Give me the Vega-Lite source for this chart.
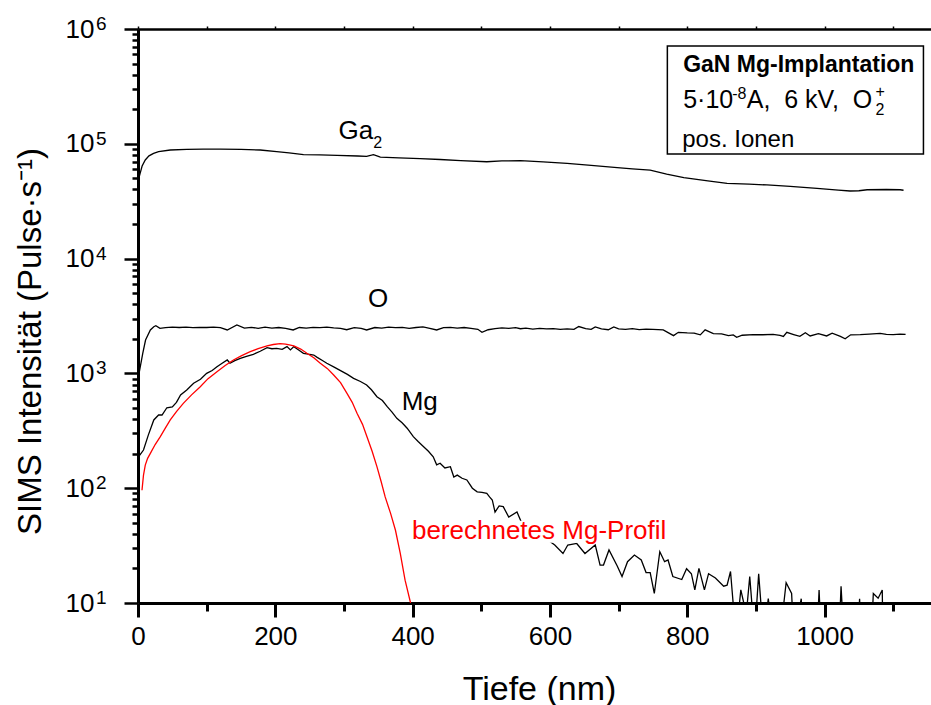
{
  "$schema": "https://vega.github.io/schema/vega-lite/v6.json",
  "width": 793,
  "height": 574,
  "autosize": {"type": "none"},
  "padding": {"left": 138, "top": 29, "right": 0, "bottom": 102},
  "background": "white",
  "config": {
    "view": {"stroke": null},
    "font": "Liberation Sans",
    "axis": {"grid": false, "domainColor": "black", "tickColor": "black", "labelColor": "black", "titleColor": "black", "labelFont": "Liberation Sans", "titleFont": "Liberation Sans", "titleFontWeight": "normal"}
  },
  "datasets": {
    "lines": [
      {"series":"Ga2","d":0,"v":47000},{"series":"Ga2","d":3,"v":55000},{"series":"Ga2","d":6,"v":64000},{"series":"Ga2","d":10.6,"v":72300},{"series":"Ga2","d":16,"v":78500},{"series":"Ga2","d":22.7,"v":82600},{"series":"Ga2","d":30,"v":85500},{"series":"Ga2","d":47,"v":88300},{"series":"Ga2","d":71,"v":89500},{"series":"Ga2","d":95,"v":90000},{"series":"Ga2","d":120,"v":90000},{"series":"Ga2","d":150,"v":89300},{"series":"Ga2","d":178,"v":88300},{"series":"Ga2","d":202,"v":85300},{"series":"Ga2","d":220,"v":83500},{"series":"Ga2","d":241,"v":80400},{"series":"Ga2","d":265,"v":80000},{"series":"Ga2","d":290,"v":79400},{"series":"Ga2","d":320,"v":78300},{"series":"Ga2","d":333,"v":77800},{"series":"Ga2","d":340,"v":79500},{"series":"Ga2","d":343,"v":80400},{"series":"Ga2","d":347,"v":79000},{"series":"Ga2","d":353,"v":76700},{"series":"Ga2","d":380,"v":75500},{"series":"Ga2","d":411,"v":74200},{"series":"Ga2","d":440,"v":73000},{"series":"Ga2","d":470,"v":71500},{"series":"Ga2","d":508,"v":69800},{"series":"Ga2","d":530,"v":71000},{"series":"Ga2","d":557,"v":71300},{"series":"Ga2","d":590,"v":69500},{"series":"Ga2","d":625,"v":67600},{"series":"Ga2","d":660,"v":65000},{"series":"Ga2","d":698,"v":61900},{"series":"Ga2","d":720,"v":60500},{"series":"Ga2","d":746,"v":59100},{"series":"Ga2","d":770,"v":54500},{"series":"Ga2","d":795,"v":50700},{"series":"Ga2","d":830,"v":47500},{"series":"Ga2","d":858,"v":45300},{"series":"Ga2","d":890,"v":44500},{"series":"Ga2","d":916,"v":43800},{"series":"Ga2","d":950,"v":42500},{"series":"Ga2","d":989,"v":40900},{"series":"Ga2","d":1020,"v":39500},{"series":"Ga2","d":1037,"v":38800},{"series":"Ga2","d":1050,"v":39000},{"series":"Ga2","d":1062,"v":39800},{"series":"Ga2","d":1090,"v":40000},{"series":"Ga2","d":1110,"v":39800},{"series":"Ga2","d":1115,"v":39400},
      {"series":"O","d":2,"v":1035},{"series":"O","d":7,"v":1500},{"series":"O","d":11,"v":1954},{"series":"O","d":18,"v":2388},{"series":"O","d":23,"v":2553},{"series":"O","d":26,"v":2606},{"series":"O","d":32,"v":2470},{"series":"O","d":40,"v":2500},{"series":"O","d":50,"v":2525},{"series":"O","d":60,"v":2510},{"series":"O","d":70,"v":2530},{"series":"O","d":80,"v":2500},{"series":"O","d":90,"v":2520},{"series":"O","d":100,"v":2510},{"series":"O","d":110,"v":2530},{"series":"O","d":120,"v":2500},{"series":"O","d":130,"v":2390},{"series":"O","d":144,"v":2640},{"series":"O","d":155,"v":2480},{"series":"O","d":165,"v":2520},{"series":"O","d":175,"v":2470},{"series":"O","d":185,"v":2530},{"series":"O","d":195,"v":2480},{"series":"O","d":205,"v":2510},{"series":"O","d":215,"v":2470},{"series":"O","d":226,"v":2390},{"series":"O","d":235,"v":2510},{"series":"O","d":245,"v":2480},{"series":"O","d":255,"v":2520},{"series":"O","d":265,"v":2500},{"series":"O","d":275,"v":2530},{"series":"O","d":285,"v":2490},{"series":"O","d":295,"v":2470},{"series":"O","d":304,"v":2400},{"series":"O","d":315,"v":2500},{"series":"O","d":325,"v":2470},{"series":"O","d":333,"v":2390},{"series":"O","d":345,"v":2510},{"series":"O","d":355,"v":2480},{"series":"O","d":365,"v":2530},{"series":"O","d":375,"v":2500},{"series":"O","d":385,"v":2520},{"series":"O","d":395,"v":2470},{"series":"O","d":405,"v":2510},{"series":"O","d":415,"v":2540},{"series":"O","d":425,"v":2470},{"series":"O","d":435,"v":2390},{"series":"O","d":445,"v":2500},{"series":"O","d":455,"v":2520},{"series":"O","d":465,"v":2480},{"series":"O","d":475,"v":2510},{"series":"O","d":485,"v":2470},{"series":"O","d":495,"v":2420},{"series":"O","d":501,"v":2280},{"series":"O","d":510,"v":2400},{"series":"O","d":520,"v":2460},{"series":"O","d":530,"v":2490},{"series":"O","d":540,"v":2470},{"series":"O","d":550,"v":2500},{"series":"O","d":557,"v":2450},{"series":"O","d":565,"v":2480},{"series":"O","d":575,"v":2430},{"series":"O","d":585,"v":2470},{"series":"O","d":595,"v":2440},{"series":"O","d":605,"v":2450},{"series":"O","d":615,"v":2420},{"series":"O","d":625,"v":2440},{"series":"O","d":635,"v":2420},{"series":"O","d":642,"v":2560},{"series":"O","d":652,"v":2450},{"series":"O","d":660,"v":2420},{"series":"O","d":666,"v":2540},{"series":"O","d":675,"v":2440},{"series":"O","d":685,"v":2400},{"series":"O","d":693,"v":2540},{"series":"O","d":700,"v":2440},{"series":"O","d":710,"v":2420},{"series":"O","d":720,"v":2450},{"series":"O","d":730,"v":2410},{"series":"O","d":740,"v":2430},{"series":"O","d":750,"v":2420},{"series":"O","d":765,"v":2390},{"series":"O","d":780,"v":2132},{"series":"O","d":787,"v":2280},{"series":"O","d":800,"v":2250},{"series":"O","d":810,"v":2240},{"series":"O","d":819,"v":2166},{"series":"O","d":826,"v":2393},{"series":"O","d":838,"v":2218},{"series":"O","d":850,"v":2210},{"series":"O","d":860,"v":2130},{"series":"O","d":867,"v":2166},{"series":"O","d":872,"v":2062},{"series":"O","d":880,"v":2150},{"series":"O","d":896,"v":2180},{"series":"O","d":910,"v":2170},{"series":"O","d":925,"v":2190},{"series":"O","d":935,"v":2140},{"series":"O","d":940,"v":2100},{"series":"O","d":945,"v":2280},{"series":"O","d":955,"v":2180},{"series":"O","d":964,"v":2100},{"series":"O","d":972,"v":2260},{"series":"O","d":979,"v":2120},{"series":"O","d":991,"v":2220},{"series":"O","d":1003,"v":2120},{"series":"O","d":1011,"v":2240},{"series":"O","d":1023,"v":2100},{"series":"O","d":1030,"v":2005},{"series":"O","d":1038,"v":2170},{"series":"O","d":1052,"v":2180},{"series":"O","d":1065,"v":2200},{"series":"O","d":1081,"v":2230},{"series":"O","d":1090,"v":2190},{"series":"O","d":1100,"v":2180},{"series":"O","d":1110,"v":2200},{"series":"O","d":1118,"v":2190},
      {"series":"Mg","d":1,"v":188},{"series":"Mg","d":8,"v":215},{"series":"Mg","d":15,"v":290},{"series":"Mg","d":23,"v":393},{"series":"Mg","d":30,"v":434},{"series":"Mg","d":35,"v":434},{"series":"Mg","d":42,"v":502},{"series":"Mg","d":50,"v":510},{"series":"Mg","d":56,"v":560},{"series":"Mg","d":62,"v":648},{"series":"Mg","d":71,"v":716},{"series":"Mg","d":81,"v":820},{"series":"Mg","d":91,"v":888},{"series":"Mg","d":100,"v":1000},{"series":"Mg","d":108,"v":1060},{"series":"Mg","d":115,"v":1143},{"series":"Mg","d":122,"v":1220},{"series":"Mg","d":130,"v":1309},{"series":"Mg","d":134,"v":1225},{"series":"Mg","d":141,"v":1290},{"series":"Mg","d":149,"v":1352},{"series":"Mg","d":158,"v":1410},{"series":"Mg","d":168,"v":1466},{"series":"Mg","d":178,"v":1560},{"series":"Mg","d":188,"v":1675},{"series":"Mg","d":195,"v":1640},{"series":"Mg","d":202,"v":1650},{"series":"Mg","d":210,"v":1620},{"series":"Mg","d":217,"v":1710},{"series":"Mg","d":222,"v":1600},{"series":"Mg","d":227,"v":1710},{"series":"Mg","d":234,"v":1600},{"series":"Mg","d":241,"v":1496},{"series":"Mg","d":248,"v":1470},{"series":"Mg","d":256,"v":1445},{"series":"Mg","d":261,"v":1380},{"series":"Mg","d":268,"v":1300},{"series":"Mg","d":275,"v":1225},{"series":"Mg","d":285,"v":1140},{"series":"Mg","d":295,"v":1057},{"series":"Mg","d":305,"v":980},{"series":"Mg","d":314,"v":906},{"series":"Mg","d":324,"v":850},{"series":"Mg","d":333,"v":793},{"series":"Mg","d":340,"v":720},{"series":"Mg","d":348,"v":627},{"series":"Mg","d":356,"v":580},{"series":"Mg","d":363,"v":513},{"series":"Mg","d":370,"v":460},{"series":"Mg","d":377,"v":406},{"series":"Mg","d":385,"v":370},{"series":"Mg","d":392,"v":333},{"series":"Mg","d":401,"v":281},{"series":"Mg","d":408,"v":255},{"series":"Mg","d":416,"v":230},{"series":"Mg","d":423,"v":210},{"series":"Mg","d":430,"v":188},{"series":"Mg","d":435,"v":160},{"series":"Mg","d":440,"v":165},{"series":"Mg","d":447,"v":150},{"series":"Mg","d":455,"v":154},{"series":"Mg","d":460,"v":125},{"series":"Mg","d":465,"v":130},{"series":"Mg","d":472,"v":122},{"series":"Mg","d":479,"v":118},{"series":"Mg","d":487,"v":100},{"series":"Mg","d":494,"v":93},{"series":"Mg","d":501,"v":92},{"series":"Mg","d":508,"v":90},{"series":"Mg","d":512,"v":84},{"series":"Mg","d":516,"v":79},{"series":"Mg","d":520,"v":62},{"series":"Mg","d":526,"v":70},{"series":"Mg","d":532,"v":69},{"series":"Mg","d":540,"v":56},{"series":"Mg","d":552,"v":62},{"series":"Mg","d":562,"v":45},{"series":"Mg","d":575,"v":40},{"series":"Mg","d":590,"v":38},{"series":"Mg","d":607,"v":32},{"series":"Mg","d":619,"v":27},{"series":"Mg","d":626,"v":32},{"series":"Mg","d":639,"v":33},{"series":"Mg","d":651,"v":27},{"series":"Mg","d":666,"v":32},{"series":"Mg","d":673,"v":21.4},{"series":"Mg","d":678,"v":21.4},{"series":"Mg","d":686,"v":29},{"series":"Mg","d":698,"v":21},{"series":"Mg","d":705,"v":17},{"series":"Mg","d":713,"v":22.9},{"series":"Mg","d":723,"v":26.2},{"series":"Mg","d":733,"v":23.7},{"series":"Mg","d":740,"v":18.4},{"series":"Mg","d":746,"v":18.4},{"series":"Mg","d":752,"v":12.1},{"series":"Mg","d":760,"v":28},{"series":"Mg","d":767,"v":22.9},{"series":"Mg","d":772,"v":23.7},{"series":"Mg","d":779,"v":17},{"series":"Mg","d":792,"v":16},{"series":"Mg","d":799,"v":19.9},{"series":"Mg","d":806,"v":18},{"series":"Mg","d":811,"v":13},{"series":"Mg","d":817,"v":20},{"series":"Mg","d":825,"v":13},{"series":"Mg","d":831,"v":18},{"series":"Mg","d":841,"v":16.5},{"series":"Mg","d":853,"v":14},{"series":"Mg","d":858,"v":14.3},{"series":"Mg","d":863,"v":18.8},{"series":"Mg","d":871,"v":5},{"series":"Mg","d":878,"v":13},{"series":"Mg","d":886,"v":8},{"series":"Mg","d":891,"v":17},{"series":"Mg","d":898,"v":5},{"series":"Mg","d":904,"v":18},{"series":"Mg","d":911,"v":5},{"series":"Mg","d":918,"v":10.9},{"series":"Mg","d":925,"v":5},{"series":"Mg","d":935,"v":5},{"series":"Mg","d":944,"v":15},{"series":"Mg","d":952,"v":12.1},{"series":"Mg","d":955,"v":5},{"series":"Mg","d":966,"v":10.9},{"series":"Mg","d":969,"v":5},{"series":"Mg","d":989,"v":5},{"series":"Mg","d":992,"v":13},{"series":"Mg","d":995,"v":5},{"series":"Mg","d":1021,"v":5},{"series":"Mg","d":1024,"v":14},{"series":"Mg","d":1028,"v":5},{"series":"Mg","d":1048,"v":5},{"series":"Mg","d":1051,"v":10.9},{"series":"Mg","d":1053,"v":5},{"series":"Mg","d":1068,"v":5},{"series":"Mg","d":1071,"v":12.1},{"series":"Mg","d":1078,"v":11},{"series":"Mg","d":1084,"v":13},{"series":"Mg","d":1085,"v":5}
    ],
    "calc": [
      {"d":5.8,"v":96},{"d":8,"v":130},{"d":10.6,"v":159},{"d":14,"v":182},{"d":18,"v":201},{"d":25,"v":240},{"d":32.5,"v":281},{"d":40,"v":335},{"d":47,"v":393},{"d":56,"v":465},{"d":66,"v":548},{"d":78,"v":650},{"d":90.7,"v":766},{"d":102,"v":900},{"d":115,"v":1035},{"d":127,"v":1170},{"d":139,"v":1309},{"d":151,"v":1430},{"d":163.5,"v":1545},{"d":175,"v":1640},{"d":188,"v":1734},{"d":197,"v":1785},{"d":207,"v":1815},{"d":215,"v":1800},{"d":222,"v":1760},{"d":227,"v":1734},{"d":237,"v":1630},{"d":246,"v":1496},{"d":256,"v":1370},{"d":265.5,"v":1225},{"d":276,"v":1100},{"d":285,"v":968},{"d":295,"v":830},{"d":304.4,"v":670},{"d":312,"v":560},{"d":319,"v":449},{"d":327,"v":360},{"d":333.5,"v":281},{"d":341,"v":210},{"d":348,"v":154},{"d":354,"v":115},{"d":360,"v":84},{"d":368,"v":60},{"d":375,"v":43},{"d":382,"v":27},{"d":389,"v":15.8},{"d":397,"v":10}
    ],
    "exps": [
      {"e":"1","v":10},{"e":"2","v":100},{"e":"3","v":1000},{"e":"4","v":10000},{"e":"5","v":100000},{"e":"6","v":1000000}
    ]
  },
  "resolve": {"axis": {"x": "independent", "y": "independent"}},
  "layer": [
    {
      "data": {"name": "lines"},
      "mark": {"type": "line", "color": "black", "strokeWidth": 1.3, "clip": true},
      "encoding": {
        "x": {"field": "d", "type": "quantitative", "scale": {"domain": [0, 1155], "nice": false, "zero": false},
          "axis": {"orient": "bottom", "title": "Tiefe (nm)", "values": [0,200,400,600,800,1000], "tickCount": 100, "format": "d",
            "labelFlush": false, "labelOverlap": false,
            "labelFontSize": 26, "labelPadding": 6, "domainWidth": 3, "tickWidth": 3, "tickSize": 14,
            "titleFontSize": 34, "titleX": 401, "titleY": 96, "titleBaseline": "alphabetic", "titleAnchor": "middle", "titleAlign": "center"}},
        "y": {"field": "v", "type": "quantitative", "scale": {"type": "log", "domain": [10, 1000000], "nice": false},
          "axis": {"orient": "left", "title": "SIMS Intensität (Pulse·s⁻¹)", "values": [10,100,1000,10000,100000,1000000], "tickCount": 100,
            "labelExpr": "'10'",
            "labelOverlap": false, "labelBound": false, "labelFontSize": 26, "labelAlign": "left", "labelBaseline": "middle", "labelPadding": 59,
            "domainWidth": 3, "tickWidth": 2.5, "tickSize": 14,
            "titleFontSize": 33, "titleX": -108, "titleY": 312, "titleAngle": -90, "titleAlign": "center", "titleBaseline": "middle", "titleAnchor": "middle"}},
        "detail": {"field": "series"}
      }
    },
    {
      "data": {"name": "calc"},
      "mark": {"type": "line", "color": "#ff0000", "strokeWidth": 1.3, "clip": true},
      "encoding": {
        "x": {"field": "d", "type": "quantitative", "axis": {"orient": "bottom", "title": null, "labels": false, "domain": false, "values": [100,300,500,700,900,1100], "tickCount": 100, "tickSize": 8, "tickWidth": 3}},
        "y": {"field": "v", "type": "quantitative", "axis": {"orient": "left", "title": null, "labels": false, "domain": false, "values": [20,30,40,50,60,70,80,90,200,300,400,500,600,700,800,900,2000,3000,4000,5000,6000,7000,8000,9000,20000,30000,40000,50000,60000,70000,80000,90000,200000,300000,400000,500000,600000,700000,800000,900000], "tickCount": 100, "tickSize": 6, "tickWidth": 2.5}}
      }
    },
    {
      "data": {"values": [{"x1": 771, "x2": 1144, "y1": 711000, "y2": 81500}]},
      "mark": {"type": "rect", "fill": "white", "stroke": "black", "strokeWidth": 1.5},
      "encoding": {
        "x": {"field": "x1", "type": "quantitative", "axis": {"orient": "top", "title": null, "labels": false, "values": [0,100,200,300,400,500,600,700,800,900,1000,1100], "tickCount": 100, "tickSize": 3, "tickWidth": 1.5, "domainWidth": 2.5}},
        "x2": {"field": "x2"},
        "y": {"field": "y1", "type": "quantitative", "axis": null}, "y2": {"field": "y2"}
      }
    },
    {
      "data": {"values": [{"x1": 397, "x2": 799, "y1": 52, "y2": 33.5}]},
      "mark": {"type": "rect", "fill": "white", "stroke": null},
      "encoding": {
        "x": {"field": "x1", "type": "quantitative", "axis": null}, "x2": {"field": "x2"},
        "y": {"field": "y1", "type": "quantitative", "axis": null}, "y2": {"field": "y2"}
      }
    },
    {
      "data": {"values": [{"t": "Ga", "d": 292, "v": 109400}, {"t": "O", "d": 335, "v": 3786}, {"t": "Mg", "d": 384, "v": 482}]},
      "mark": {"type": "text", "align": "left", "baseline": "alphabetic", "fontSize": 26, "color": "black"},
      "encoding": {
        "x": {"field": "d", "type": "quantitative", "axis": null},
        "y": {"field": "v", "type": "quantitative", "axis": null},
        "text": {"field": "t"}
      }
    },
    {
      "data": {"values": [{"t": "berechnetes Mg-Profil", "d": 399, "v": 35.9}]},
      "mark": {"type": "text", "align": "left", "baseline": "alphabetic", "fontSize": 26, "color": "#ff0000"},
      "encoding": {
        "x": {"field": "d", "type": "quantitative", "axis": null},
        "y": {"field": "v", "type": "quantitative", "axis": null},
        "text": {"field": "t"}
      }
    },
    {
      "data": {"values": [{"t": "GaN Mg-Implantation", "d": 794, "v": 424600}]},
      "mark": {"type": "text", "align": "left", "baseline": "alphabetic", "fontSize": 23, "fontWeight": "bold", "color": "black"},
      "encoding": {
        "x": {"field": "d", "type": "quantitative", "axis": null},
        "y": {"field": "v", "type": "quantitative", "axis": null},
        "text": {"field": "t"}
      }
    },
    {
      "data": {"values": [{"t": "5·10", "d": 794.1, "v": 205000}, {"t": "A,\u00a0\u00a06\u00a0kV,\u00a0\u00a0O", "d": 886.6, "v": 205000}]},
      "mark": {"type": "text", "align": "left", "baseline": "alphabetic", "fontSize": 25, "color": "black"},
      "encoding": {
        "x": {"field": "d", "type": "quantitative", "axis": null},
        "y": {"field": "v", "type": "quantitative", "axis": null},
        "text": {"field": "t"}
      }
    },
    {
      "data": {"values": [{"t": "pos. Ionen", "d": 792.6, "v": 94400}]},
      "mark": {"type": "text", "align": "left", "baseline": "alphabetic", "fontSize": 24, "color": "black"},
      "encoding": {
        "x": {"field": "d", "type": "quantitative", "axis": null},
        "y": {"field": "v", "type": "quantitative", "axis": null},
        "text": {"field": "t"}
      }
    },
    {
      "data": {"values": [{"t": "-8", "d": 865.4, "v": 245500}, {"t": "2", "d": 1074, "v": 178200}, {"t": "+", "d": 1074, "v": 255700}, {"t": "2", "d": 342.6, "v": 91900}]},
      "mark": {"type": "text", "align": "left", "baseline": "alphabetic", "fontSize": 16, "color": "black"},
      "encoding": {
        "x": {"field": "d", "type": "quantitative", "axis": null},
        "y": {"field": "v", "type": "quantitative", "axis": null},
        "text": {"field": "t"}
      }
    },
    {
      "data": {"name": "exps"},
      "mark": {"type": "text", "align": "left", "baseline": "alphabetic", "fontSize": 19, "color": "black", "dx": -42, "dy": 1},
      "encoding": {
        "x": {"datum": 0, "type": "quantitative", "axis": null},
        "y": {"field": "v", "type": "quantitative", "axis": null},
        "text": {"field": "e"}
      }
    }
  ]
}
